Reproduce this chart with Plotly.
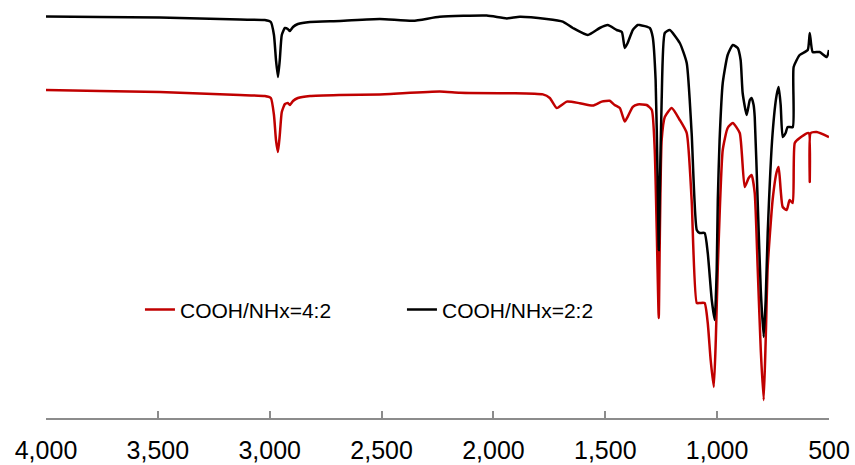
import plotly.graph_objects as go

# Wavenumber (cm-1) and transmittance (a.u.)
wn_black = [4000, 3759, 3491, 3312, 3133, 3022, 2995, 2981, 2972, 2963, 2955, 2946, 2932, 2919, 2910, 2896,
            2874, 2820, 2686, 2508, 2360, 2240, 2030, 1940, 1882, 1762, 1690, 1645, 1578, 1525, 1489, 1449,
            1426, 1413, 1400, 1377, 1355, 1346, 1301, 1288, 1275, 1266, 1261, 1257, 1248, 1234, 1212, 1167,
            1136, 1114, 1091, 1078, 1056, 1042, 1024, 1011, 1002, 997, 989, 975, 953, 930, 908, 895, 886,
            868, 854, 846, 837, 832, 819, 805, 792, 783, 774, 752, 734, 725, 716, 707, 694, 685, 662, 658,
            631, 595, 586, 573, 542, 510, 500]
t_black = [100.4, 100.25, 100.1, 99.9, 99.6, 99.5, 99.0, 95.75, 89.5, 85.25, 89.5, 95.75, 97.5, 97.25, 96.75, 97.75,
           98.5, 99.0, 99.25, 99.75, 99.3, 100.3, 100.6, 99.9, 100.3, 99.75, 99.1, 97.5, 95.75, 97.5, 98.25, 97.0,
           96.5, 92.5, 93.75, 97.0, 98.25, 98.25, 97.5, 95.25, 84.5, 59.5, 42.0, 54.5, 79.5, 96.25, 97.0, 93.75,
           88.75, 71.25, 47.0, 46.25, 46.25, 41.25, 29.5, 24.5, 37.0, 54.5, 69.5, 83.75, 90.75, 93.25, 92.5, 89.5, 81.25,
           75.75, 79.5, 80.0, 78.25, 75.25, 54.5, 32.0, 20.25, 29.5, 46.25, 71.25, 80.75, 82.75, 78.25, 70.25, 71.25, 72.75, 72.75, 87.75,
           90.75, 92.0, 96.25, 91.5, 91.5, 90.25, 92.0]

wn_red = [4000, 3759, 3491, 3312, 3133, 3022, 2995, 2981, 2972, 2963, 2955, 2946, 2932, 2919, 2910, 2896,
          2874, 2820, 2686, 2508, 2240, 2150, 1972, 1913, 1779, 1748, 1717, 1672, 1614, 1556, 1516, 1480,
          1458, 1435, 1413, 1400, 1377, 1355, 1315, 1292, 1279, 1270, 1261, 1257, 1248, 1234, 1203, 1167,
          1136, 1114, 1091, 1078, 1056, 1042, 1029, 1015, 1006, 997, 975, 953, 930, 899, 877, 859, 846,
          832, 819, 805, 792, 783, 774, 752, 734, 725, 716, 707, 689, 676, 662, 653, 631, 591, 586, 582,
          555, 500]
t_red = [82.0, 81.75, 81.5, 81.1, 80.75, 80.5, 80.0, 75.75, 69.5, 66.5, 70.75, 76.5, 78.5, 78.75, 78.25, 79.25,
         80.0, 80.5, 80.75, 80.9, 81.6, 81.3, 81.2, 81.2, 80.9, 80.0, 77.5, 79.1, 78.7, 78.1, 79.1, 79.3,
         78.25, 77.5, 74.1, 75.3, 77.8, 78.4, 78.25, 77.0, 67.0, 47.0, 25.0, 42.0, 69.5, 75.25, 77.5, 74.5,
         71.25, 54.5, 28.75, 28.75, 28.75, 23.75, 14.5, 7.75, 19.5, 37.75, 67.0, 72.5, 73.75, 71.25, 57.75, 60.0, 60.75,
         56.25, 37.75, 17.0, 4.5, 19.5, 37.75, 54.5, 61.5, 62.75, 57.0, 52.75, 52.0, 54.5, 53.75, 68.75, 70.0, 71.25, 59.0, 71.25,
         71.5, 70.25]

x_ticks = [4000, 3500, 3000, 2500, 2000, 1500, 1000, 500]
names = ["COOH/NHx=4:2", "COOH/NHx=2:2"]

fig = go.Figure()
fig.add_trace(go.Scatter(x=wn_red, y=t_red, mode="lines", name=names[0],
                         line=dict(color="#C00000", width=2.5, shape="spline", smoothing=0.5)))
fig.add_trace(go.Scatter(x=wn_black, y=t_black, mode="lines", name=names[1],
                         line=dict(color="#000000", width=2.5, shape="spline", smoothing=0.5)))

fig.update_layout(
    width=855, height=465,
    margin=dict(l=46, r=26, t=0, b=47, autoexpand=False),
    plot_bgcolor="white", paper_bgcolor="white",
    font=dict(family="Liberation Sans, Arial, sans-serif", color="black"),
    showlegend=True,
    legend=dict(orientation="h", x=0.12, y=0.259, xanchor="left", yanchor="middle",
                font=dict(size=21, family="Liberation Sans, Arial, sans-serif", color="black"),
                bgcolor="rgba(0,0,0,0)", entrywidth=217, entrywidthmode="pixels"),
    xaxis=dict(range=[4000, 500], tickvals=x_ticks, tickformat=",d", automargin=False,
               showline=True, linecolor="#8c8c8c", linewidth=1.5,
               ticks="inside", ticklen=7, tickcolor="#8c8c8c", tickwidth=1.5,
               showgrid=False, zeroline=False, ticklabelstandoff=9,
               tickfont=dict(size=25, family="Liberation Sans, Arial, sans-serif", color="black")),
    yaxis=dict(range=[0, 104.5], visible=False, showgrid=False, zeroline=False, automargin=False),
)

fig.write_html("out.html", config={"displayModeBar": False},
               post_script="document.body.style.margin='0';document.body.style.overflow='hidden';")
